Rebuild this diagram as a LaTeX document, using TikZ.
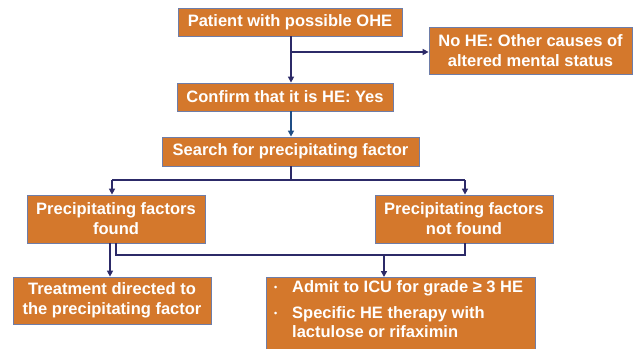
\documentclass[tikz,border=0pt]{standalone}
\usepackage{fontspec}
\setmainfont{Liberation Sans}
\usetikzlibrary{arrows.meta}
\definecolor{boxorange}{HTML}{D4782C}
\definecolor{boxedge}{HTML}{6E7DA8}
\definecolor{linenavy}{HTML}{2C2A68}
\definecolor{lineblue}{HTML}{1F4E86}
\tikzset{
  fbox/.style={draw=boxedge, line width=0.8pt, fill=boxorange, text=white,
    font=\bfseries\fontsize{16.5}{20}\selectfont, align=center, inner sep=0pt},
  conn/.style={draw=linenavy, line width=1.8pt},
  arr/.style={conn, -{Triangle[length=6pt,width=6pt]}},
}
\begin{document}
\begin{tikzpicture}[x=1pt,y=-1pt]
\useasboundingbox (0,0) rectangle (637,348);
% boxes
\node[fbox, minimum width=224, minimum height=28] (b1) at (290,22) {Patient with possible OHE};
\node[fbox, minimum width=203, minimum height=47] (nohe) at (530.5,50.5) {No HE: Other causes of\\altered mental status};
\node[fbox, minimum width=216, minimum height=28] (b2) at (285,97) {Confirm that it is HE: Yes};
\node[fbox, minimum width=257, minimum height=29] (b3) at (290.5,151.5) {Search for precipitating factor};
\node[fbox, minimum width=178, minimum height=48] (b4) at (116,219) {Precipitating factors\\found};
\node[fbox, minimum width=178, minimum height=48] (b5) at (464,219) {Precipitating factors\\not found};
\node[fbox, minimum width=198, minimum height=47] (b6) at (112,300.5) {Treatment directed to\\the precipitating factor};
\node[fbox, minimum width=269, minimum height=90, anchor=north west] (b7) at (266,277) {};
\node[text=white, font=\bfseries\fontsize{16.5}{19}\selectfont, align=left, inner sep=0pt, anchor=north west] (b7t) at (274,280)
  {\makebox[18pt][l]{\fontsize{9}{9}\selectfont\raisebox{2pt}{•}}Admit to ICU for grade ≥ 3 HE\\[7pt]
   \makebox[18pt][l]{\fontsize{9}{9}\selectfont\raisebox{2pt}{•}}Specific HE therapy with\\
   \hspace*{18pt}lactulose or rifaximin};
% junction coordinates
\coordinate (j1) at (291,52);
\coordinate (j3) at (291,180);
\coordinate (j3l) at (112,180);
\coordinate (j3r) at (465,180);
\coordinate (j4) at (116,255);
\coordinate (j5) at (465,255);
\coordinate (j6) at (384,255);
% connectors
\draw[arr] (b1.south -| j1) -- (b2.north -| j1);
\draw[arr] (j1) -- (nohe.west |- j1);
\draw[arr, draw=lineblue] (b2.south -| j1) -- (b3.north -| j1);
\draw[conn] (b3.south -| j3) -- (j3);
\draw[conn] (j3l) -- (j3r);
\draw[arr] (j3l) -- (b4.north -| j3l);
\draw[arr] (j3r) -- (b5.north -| j3r);
\draw[arr] (b4.south -| 110,0) -- (b6.north -| 110,0);
\draw[conn] (b4.south -| j4) -- (j4) -- (j5) -- (b5.south -| j5);
\draw[arr] (j6) -- (b7.north -| j6);
\end{tikzpicture}
\end{document}
